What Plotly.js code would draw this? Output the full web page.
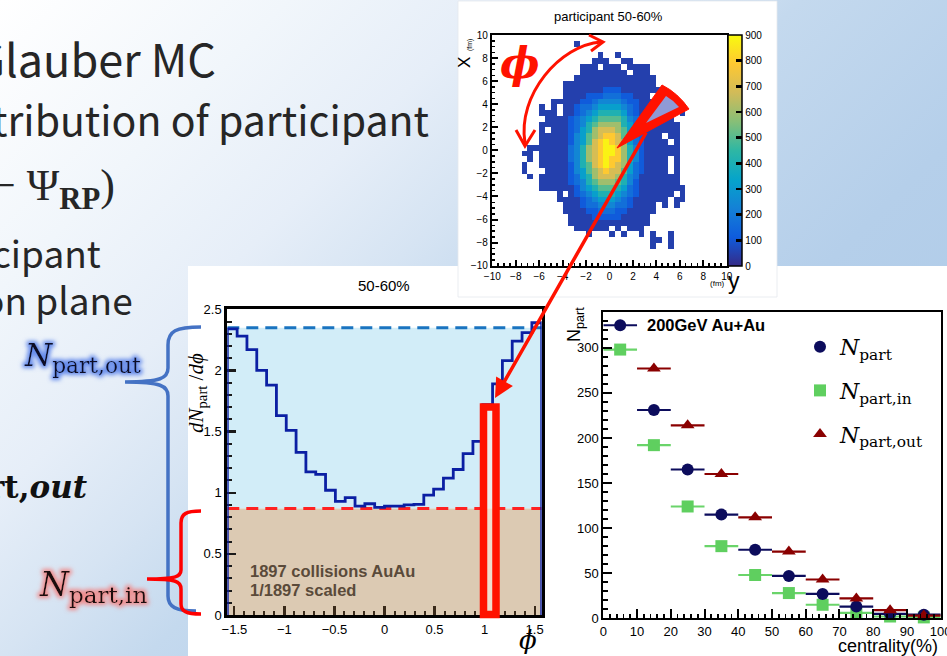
<!DOCTYPE html>
<html><head><meta charset="utf-8">
<script src="https://cdn.plot.ly/plotly-3.0.1.min.js"></script>
<style>
html,body{margin:0;padding:0;}
body{width:947px;height:656px;overflow:hidden;background:linear-gradient(135deg,#ffffff 0%,#f1f6fb 18%,#e6eef8 31%,#d6e4f3 41%,#c4d9ee 50%,#b5cfea 68%,#abc8e6 100%);}
#chart{position:absolute;left:0;top:0;width:947px;height:656px;}
</style></head><body>
<svg width="0" height="0" style="position:absolute">
 <defs>
  <filter id="glowBlue" x="-30%" y="-50%" width="160%" height="200%">
   <feMorphology in="SourceAlpha" operator="dilate" radius="1.5" result="d"/>
   <feGaussianBlur in="d" stdDeviation="2.2" result="b"/>
   <feFlood flood-color="#5f86ea" flood-opacity="0.95"/>
   <feComposite in2="b" operator="in" result="g"/>
   <feMerge><feMergeNode in="g"/><feMergeNode in="SourceGraphic"/></feMerge>
  </filter>
  <filter id="glowRed" x="-30%" y="-50%" width="160%" height="200%">
   <feMorphology in="SourceAlpha" operator="dilate" radius="1.5" result="d"/>
   <feGaussianBlur in="d" stdDeviation="2.2" result="b"/>
   <feFlood flood-color="#f08a8a" flood-opacity="0.95"/>
   <feComposite in2="b" operator="in" result="g"/>
   <feMerge><feMergeNode in="g"/><feMergeNode in="SourceGraphic"/></feMerge>
  </filter>
 </defs>
</svg>
<div id="chart"></div>
<script>
// ---------------- DATA ----------------
// Heatmap: participant positions, 50-60% centrality; 40x40 bins over -10..10 fm
// each row: [first column index, cell codes]; rows from X=+10 (top) to X=-10 (bottom)
const hmCodes  = ['1','2','3','4','5','6','7','8','9','A','B'];
const hmCounts = [50, 110, 170, 240, 320, 410, 500, 600, 690, 790, 880];
const hmRows = [
 [0,""],
 [14,"1"],
 [0,""],
 [18,"1..1"],
 [17,"111..11"],
 [15,"111.111.1111"],
 [15,"11111111.111"],
 [14,"11111111111111"],
 [12,"1111111111111111"],
 [12,"11111112221111111"],
 [12,"111122233322111.1"],
 [10,"1111122344443221111"],
 [8,"1.1.112334555543211111"],
 [8,"111.1123456666532111111.1"],
 [9,"1111234567777643211111"],
 [8,"111112346788886532111111"],
 [8,"1.1112356899987532111111"],
 [8,"11111245789AA97532111.11"],
 [8,"1111124579ABA985321111.1"],
 [6,"111111134689ABBA8642111111"],
 [5,"11.1111134689ABBA8642111111"],
 [6,"1.1111134689ABAA86421111.1"],
 [5,"1..1111124679ABA985321111.1"],
 [5,"1...1111245789A9975321111.1"],
 [6,"1.111112356899986431111111"],
 [8,"111112346788876421111111"],
 [8,"1111112456777653211111111"],
 [11,"1.123456665432111111.1"],
 [11,"1111234555432111111.11"],
 [12,"1112334443321111.1.1"],
 [12,"1111223332211111"],
 [13,"11112222211111"],
 [13,"11111111111111"],
 [14,"111111.1.111"],
 [16,"1...1.1..1.1..1"],
 [27,"11.1"],
 [27,"1..1"],
 [0,""],
 [0,""],
 [0,""]
];
const hmNBins = 40, hmLow = -10, hmBinW = 0.5;
const hmTicks = [-10,-8,-6,-4,-2,0,2,4,6,8,10];
const cbTicks = [0,100,200,300,400,500,600,700,800,900];

// Histogram dN_part/dphi, 50-60%, 32 bins over [-pi/2, pi/2]
const phiBinCount = 32;
const dNdphi = [2.34,2.28,2.17,2.00,1.88,1.63,1.51,1.33,1.17,1.15,1.02,0.93,0.96,0.89,0.91,0.88,
                0.89,0.89,0.90,0.905,0.98,1.03,1.12,1.19,1.32,1.42,1.72,1.89,2.08,2.24,2.31,2.39];
const nPartOutLevel = 2.35;
const nPartInLevel  = 0.87;

// N_part vs centrality, 200 GeV Au+Au
const centrality = [5,15,25,35,45,55,65,75,85,95];
const centHalfWidth = 5;
const nPart    = [325,231,165,115,76,47,27,13,5,4];
const nPartIn  = [298,192,124,80,48,28,15,6,2,1];
const nPartOut = [null,277,214,160,112,74,43,22,9,3];

// ---------------- HELPERS ----------------
const W = 947, H = 656;
const fx = v => v / W, fy = v => 1 - v / H;
function pxPath(s){
  const toks = s.trim().split(/[\s,]+/); const out = []; let buf = [];
  for (const t of toks){
    if (/^[A-Za-z]$/.test(t)) out.push(t);
    else { buf.push(parseFloat(t)); if (buf.length===2){ out.push(fx(buf[0]).toFixed(5)+','+fy(buf[1]).toFixed(5)); buf=[]; } }
  }
  return out.join(' ');
}

const codeMap = {}; hmCodes.forEach((c,i)=>codeMap[c]=hmCounts[i]);
const zTop = hmRows.map(([start, cells]) => {
  const row = new Array(hmNBins).fill(null);
  for (let i=0;i<cells.length;i++){ const c = cells[i]; if (c !== '.') row[start+i] = codeMap[c]; }
  return row;
});
const z = zTop.slice().reverse();

const edges = []; for (let k=0;k<=phiBinCount;k++) edges.push(-Math.PI/2 + k*Math.PI/phiBinCount);
const stepX = [edges[0]], stepY = [0];
for (let i=0;i<phiBinCount;i++){ stepX.push(edges[i]); stepY.push(dNdphi[i]); }
stepX.push(edges[phiBinCount]); stepY.push(dNdphi[phiBinCount-1]);
stepX.push(edges[phiBinCount]); stepY.push(0);

const kBird = [[0,'rgb(53,42,135)'],[0.125,'rgb(15,92,221)'],[0.25,'rgb(20,129,214)'],[0.375,'rgb(6,164,202)'],
  [0.5,'rgb(46,183,164)'],[0.625,'rgb(135,191,119)'],[0.75,'rgb(209,187,89)'],[0.875,'rgb(254,200,50)'],[1,'rgb(249,251,14)']];

// ---------------- TRACES ----------------
const traces = [
 {type:'heatmap', xaxis:'x', yaxis:'y', z:z, x0:hmLow+hmBinW/2, dx:hmBinW, y0:hmLow+hmBinW/2, dy:hmBinW,
  colorscale:kBird, zmin:0, zmax:900, zsmooth:false, hoverinfo:'skip', showlegend:false,
  colorbar:{thickness:14, len:231, lenmode:'pixels', x:fx(728), xanchor:'left', xpad:0, ypad:0,
    y:fy(150.5), yanchor:'middle', outlinecolor:'#000', outlinewidth:1.5,
    tickmode:'array', tickvals:cbTicks, ticks:'inside', ticklen:6, tickwidth:2.5, tickcolor:'#000',
    tickfont:{family:'Liberation Sans', size:10, color:'#000'}}},
 {type:'scatter', mode:'lines', xaxis:'x2', yaxis:'y2', x:stepX, y:stepY, line:{shape:'hv', color:'#0b1fa3', width:2.8},
  hoverinfo:'skip', showlegend:false, cliponaxis:false},
 {type:'scatter', mode:'markers', xaxis:'x3', yaxis:'y3', x:centrality, y:nPartIn, name:'<i>N</i><sub>part,in</sub>',
  legendgroup:'b', legendrank:2, cliponaxis:false,
  marker:{symbol:'square', size:12, color:'#5fcf5f'},
  error_x:{type:'constant', value:centHalfWidth, width:0, thickness:2.2, color:'#6ad46a'}},
 {type:'scatter', mode:'markers', xaxis:'x3', yaxis:'y3', x:centrality, y:nPart, name:'<i>N</i><sub>part</sub>',
  legendgroup:'a', legendrank:1, cliponaxis:false,
  marker:{symbol:'circle', size:12, color:'#0c0c5c'},
  error_x:{type:'constant', value:centHalfWidth, width:0, thickness:2.2, color:'#0c0c5c'}},
 {type:'scatter', mode:'markers', xaxis:'x3', yaxis:'y3', x:centrality, y:nPartOut, name:'<i>N</i><sub>part,out</sub>',
  legendgroup:'c', legendrank:3, cliponaxis:false,
  marker:{symbol:'triangle-up', size:12, color:'#8a0000'},
  error_x:{type:'constant', value:centHalfWidth, width:0, thickness:2.2, color:'#8a0000'}}
];

// ---------------- AXES ----------------
const tf = (s)=>({family:'Liberation Sans', size:s, color:'#000'});
const layout = {
 width:W, height:H, margin:{l:0,r:0,t:0,b:0}, paper_bgcolor:'rgba(0,0,0,0)', plot_bgcolor:'#ffffff',
 font:{family:'Liberation Sans', color:'#000'}, showlegend:true,
 xaxis:{domain:[fx(492.3),fx(726.7)], anchor:'y', range:[-10,10], tickmode:'array', tickvals:hmTicks,
   ticks:'inside', ticklen:6, tickwidth:2, tickcolor:'#000', minor:{ticks:'inside', ticklen:3, dtick:0.5, tick0:0, tickwidth:1.5, tickcolor:'#000'},
   showline:true, linewidth:2.5, linecolor:'#000', mirror:true, showgrid:false, zeroline:false, tickfont:tf(10)},
 yaxis:{domain:[fy(265.7),fy(35)], anchor:'x', range:[-10,10], tickmode:'array', tickvals:hmTicks,
   ticks:'inside', ticklen:6, tickwidth:2, tickcolor:'#000', minor:{ticks:'inside', ticklen:3, dtick:0.5, tick0:0, tickwidth:1.5, tickcolor:'#000'},
   showline:true, linewidth:2.5, linecolor:'#000', mirror:true, showgrid:false, zeroline:false, tickfont:tf(10)},
 xaxis2:{domain:[fx(227.3),fx(541.7)], anchor:'y2', range:[-Math.PI/2, Math.PI/2], tickmode:'linear', tick0:-1.5, dtick:0.5,
   ticks:'inside', ticklen:9, tickwidth:2.2, tickcolor:'#3a2a1a', minor:{ticks:'inside', ticklen:4.5, dtick:0.1, tick0:0, tickwidth:2, tickcolor:'#3a2a1a'},
   showline:true, linewidth:3, linecolor:'#000', mirror:true, showgrid:false, zeroline:false, tickfont:tf(13), layer:'below traces'},
 yaxis2:{domain:[fy(615),fy(309.3)], anchor:'x2', range:[0,2.5], tickmode:'linear', tick0:0, dtick:0.5,
   ticks:'inside', ticklen:9, tickwidth:2.2, tickcolor:'#1a1a1a', minor:{ticks:'inside', ticklen:4.5, dtick:0.1, tick0:0, tickwidth:2, tickcolor:'#1a1a1a'},
   showline:true, linewidth:3, linecolor:'#000', mirror:true, showgrid:false, zeroline:false, tickfont:tf(13), layer:'below traces'},
 xaxis3:{domain:[fx(603.3),fx(940.7)], anchor:'y3', range:[0,100], tickmode:'linear', tick0:0, dtick:10,
   ticks:'inside', ticklen:9, tickwidth:2, tickcolor:'#000', minor:{ticks:'inside', ticklen:4.5, dtick:2, tick0:0, tickwidth:1.8, tickcolor:'#000'},
   showline:true, linewidth:2, linecolor:'#000', mirror:true, showgrid:false, zeroline:false, tickfont:tf(13), ticklabeloverflow:'allow'},
 yaxis3:{domain:[fy(618.3),fy(311.7)], anchor:'x3', range:[0,340], tickmode:'linear', tick0:0, dtick:50,
   ticks:'inside', ticklen:9, tickwidth:2, tickcolor:'#000', minor:{ticks:'inside', ticklen:4.5, dtick:10, tick0:0, tickwidth:1.8, tickcolor:'#000'},
   showline:true, linewidth:2, linecolor:'#000', mirror:true, showgrid:false, zeroline:false, tickfont:tf(13)},
 legend:{x:fx(800), xanchor:'left', y:fy(326), yanchor:'top', bgcolor:'rgba(0,0,0,0)', borderwidth:0,
   font:{family:'DejaVu Serif', size:22, color:'#000'}, tracegroupgap:12, traceorder:'grouped', itemwidth:30}
};

// ---------------- SHAPES ----------------
const RED = '#ff1200';
layout.shapes = [
 {type:'rect', xref:'paper', yref:'paper', x0:fx(188), x1:fx(947), y0:fy(656), y1:fy(266), fillcolor:'#ffffff', line:{width:0}, layer:'below'},
 {type:'rect', xref:'paper', yref:'paper', x0:fx(458), x1:fx(777), y0:fy(297), y1:fy(1), fillcolor:'#ffffff', line:{width:0.8, color:'#e4e8ee'}, layer:'below'},
 {type:'rect', xref:'x2', yref:'y2', x0:-Math.PI/2, x1:Math.PI/2, y0:nPartInLevel, y1:nPartOutLevel, fillcolor:'#d2edf8', line:{width:0}, layer:'below'},
 {type:'rect', xref:'x2', yref:'y2', x0:-Math.PI/2, x1:Math.PI/2, y0:0, y1:nPartInLevel, fillcolor:'#dccab3', line:{width:0}, layer:'below'},
 {type:'line', xref:'x2', yref:'y2', x0:-Math.PI/2, x1:Math.PI/2, y0:nPartOutLevel, y1:nPartOutLevel, line:{color:'#1a74c0', width:3, dash:'12px,7px'}, layer:'below'},
 {type:'line', xref:'x2', yref:'y2', x0:-Math.PI/2, x1:Math.PI/2, y0:nPartInLevel, y1:nPartInLevel, line:{color:'#ff2222', width:3, dash:'12px,7px'}, layer:'below'},
 {type:'rect', xref:'paper', yref:'paper', x0:fx(483.5), x1:fx(496), y0:fy(614.5), y1:fy(407), line:{color:RED, width:7.5}, fillcolor:'rgba(255,236,228,0.55)', layer:'above'},
 {type:'path', xref:'paper', yref:'paper', layer:'above', line:{color:'#4472c4', width:3.5},
  path:pxPath('M 201 327 C 176 327 168 331 168 345 L 168 368 C 168 378 161 382 125 382 C 161 382 168 386 168 396 L 168 596 C 168 607 176 611 196 611')},
 {type:'path', xref:'paper', yref:'paper', layer:'above', line:{color:'#ff0000', width:3.5},
  path:pxPath('M 201 511 C 186 511 181 514 181 523 L 181 570 C 181 577 175 579 147 579 C 175 579 181 581 181 589 L 181 604 C 181 611 186 614 201 614')},
 {type:'path', xref:'paper', yref:'paper', layer:'above', line:{color:RED, width:3},
  path:pxPath('M 525 143 C 517 95 560 45 601 42')},
 {type:'path', xref:'paper', yref:'paper', layer:'above', line:{color:RED, width:3},
  path:pxPath('M 516 130 L 525 146 L 535 130')},
 {type:'path', xref:'paper', yref:'paper', layer:'above', line:{color:RED, width:3},
  path:pxPath('M 589 35 L 603 42 L 591 51')},
 {type:'path', xref:'paper', yref:'paper', layer:'above', line:{color:RED, width:1}, fillcolor:RED,
  path:pxPath('M 617 148 L 662 85 Q 678 93 689 109 Z')},
 {type:'path', xref:'paper', yref:'paper', layer:'above', line:{width:0}, fillcolor:'#8f9ad6',
  path:pxPath('M 646 123 L 666 96 Q 673 100 679 107 Z')}
];

// ---------------- ANNOTATIONS ----------------
const ann = [];
function addText(text, x, y, opt){ ann.push(Object.assign({xref:'paper', yref:'paper', x:fx(x), y:fy(y), text:text, showarrow:false, xanchor:'center', yanchor:'middle'}, opt||{})); return ann.length-1; }
const slideFont = s => ({family:'Noto Sans CJK JP', size:s, color:'#262626'});
addText('Glauber MC', 218, 57, {xanchor:'right', font:slideFont(45)});
addText('tribution of participant', 431, 118, {xanchor:'right', font:slideFont(41)});
addText('(<i>φ</i> − Ψ<sub><b>RP</b></sub>)', 117, 188, {xanchor:'right', font:{family:'Liberation Serif', size:44, color:'#262626'}});
addText('cipant', 103, 252, {xanchor:'right', font:slideFont(37)});
addText('on plane', 135, 299, {xanchor:'right', font:slideFont(37)});
addText('<b>rt,<i>out</i></b>', 90, 487, {xanchor:'right', font:{family:'DejaVu Serif', size:31, color:'#111'}});
const iOut = addText('<i>N</i><sub>part,out</sub>', 143, 357, {xanchor:'right', font:{family:'DejaVu Serif', size:31, color:'#101028'}});
const iIn  = addText('<i>N</i><sub>part,in</sub>', 149, 586, {xanchor:'right', font:{family:'DejaVu Serif', size:33, color:'#1a0a0a'}});
// heatmap labels
addText('participant 50-60%', 608, 17, {font:tf(13)});
addText('X', 464, 63, {textangle:-90, font:tf(17)});
addText('(fm)', 470, 45, {textangle:-90, font:tf(7)});
addText('y', 734, 281, {font:tf(23)});
addText('(fm)', 717.5, 284, {font:tf(8)});
addText('<b><i>ϕ</i></b>', 520, 64, {font:{family:'DejaVu Serif', size:42, color:RED}});
// histogram labels
addText('50-60%', 383.5, 285, {font:tf(15)});
addText('<i>dN</i><sub>part</sub> /<i>dϕ</i>', 197, 393, {textangle:-90, font:{family:'Liberation Serif', size:21, color:'#000'}});
addText('<i>ϕ</i>', 528, 640, {font:{family:'DejaVu Serif', size:26, color:'#000'}});
addText('<b>1897 collisions AuAu</b>', 248, 571, {xanchor:'left', font:{family:'Liberation Sans', size:16.5, color:'#5a4a3a'}});
addText('<b>1/1897 scaled</b>', 248, 590, {xanchor:'left', font:{family:'Liberation Sans', size:16.5, color:'#5a4a3a'}});
// scatter labels
addText('N<sub>part</sub>', 576, 325, {textangle:-90, font:tf(18)});
addText('<b>200GeV Au+Au</b>', 645, 325, {xanchor:'left', font:tf(16.5)});
addText('centrality(%)', 940, 646, {xanchor:'right', font:tf(18)});
ann.push({xref:'paper', yref:'paper', x:fx(495), y:fy(398), text:'', showarrow:true, axref:'pixel', ayref:'pixel', ax:152, ay:-267,
  arrowcolor:RED, arrowwidth:3.5, arrowhead:2, arrowsize:1.1, standoff:0});
layout.annotations = ann;

Plotly.newPlot('chart', traces, layout, {staticPlot:true, displayModeBar:false}).then(()=>{
  const g = document.querySelectorAll('#chart .annotation');
  if (g[iOut]) g[iOut].setAttribute('filter','url(#glowBlue)');
  if (g[iIn]) g[iIn].setAttribute('filter','url(#glowRed)');
});
</script>
</body></html>
